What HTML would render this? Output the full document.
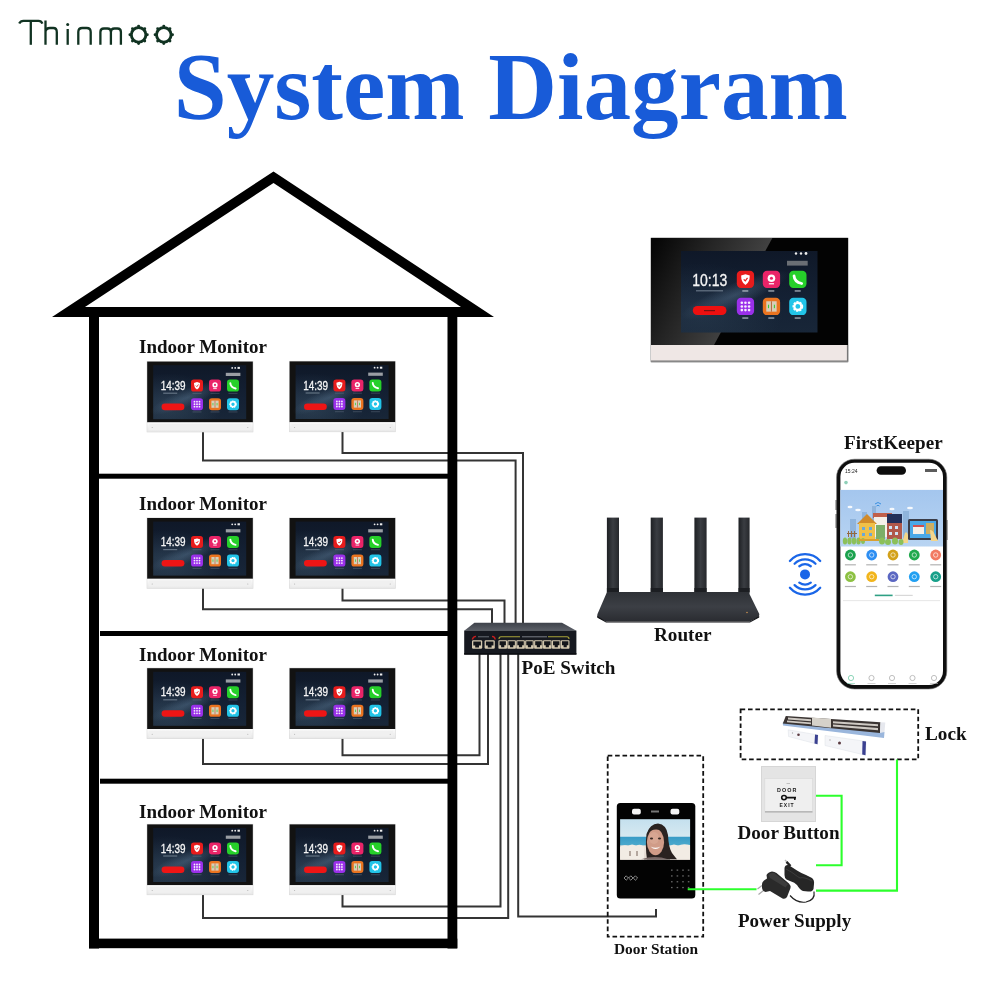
<!DOCTYPE html>
<html><head><meta charset="utf-8">
<style>
html,body{margin:0;padding:0;background:#fff;}
#root{position:relative;width:1000px;height:1000px;overflow:hidden;background:#fff;}
svg{position:absolute;left:0;top:0;will-change:transform;}
.lbl{font-family:"Liberation Serif",serif;font-weight:bold;fill:#111;}
.sans{font-family:"Liberation Sans",sans-serif;}
</style></head><body><div id="root">
<svg width="1000" height="1000" viewBox="0 0 1000 1000">
<defs>
 <linearGradient id="scr" x1="0" y1="0" x2="0" y2="1">
  <stop offset="0" stop-color="#0f1828"/><stop offset="0.6" stop-color="#142134"/><stop offset="1" stop-color="#182638"/>
 </linearGradient>
 <radialGradient id="neb" cx="0.15" cy="0.75" r="0.6">
  <stop offset="0" stop-color="#5a7a90" stop-opacity="0.3"/><stop offset="1" stop-color="#5a7a90" stop-opacity="0"/>
 </radialGradient>
 <radialGradient id="milky" cx="0.5" cy="0.5" r="0.5">
  <stop offset="0" stop-color="#6a8aa8" stop-opacity="0.35"/><stop offset="1" stop-color="#6a8aa8" stop-opacity="0"/>
 </radialGradient>
 <linearGradient id="gloss" gradientUnits="userSpaceOnUse" x1="651" y1="250" x2="750" y2="300">
  <stop offset="0" stop-color="#060606"/><stop offset="0.45" stop-color="#242424"/><stop offset="1" stop-color="#464646"/>
 </linearGradient>
 <linearGradient id="base" x1="0" y1="0" x2="0" y2="1">
  <stop offset="0" stop-color="#fafafa"/><stop offset="1" stop-color="#e8e8e8"/>
 </linearGradient>
 <linearGradient id="rtr" x1="0" y1="0" x2="0" y2="1">
  <stop offset="0" stop-color="#2e3136"/><stop offset="0.5" stop-color="#3c3f45"/><stop offset="1" stop-color="#2a2c31"/>
 </linearGradient>
 <linearGradient id="ant" x1="0" y1="0" x2="1" y2="0">
  <stop offset="0" stop-color="#1e2024"/><stop offset="0.5" stop-color="#3a3d42"/><stop offset="1" stop-color="#26282c"/>
 </linearGradient>
 <linearGradient id="swtop" x1="0" y1="0" x2="0" y2="1">
  <stop offset="0" stop-color="#3e424a"/><stop offset="1" stop-color="#5c6068"/>
 </linearGradient>
 <linearGradient id="sky" x1="0" y1="0" x2="0" y2="1">
  <stop offset="0" stop-color="#a4c6ee"/><stop offset="1" stop-color="#b8d4f2"/>
 </linearGradient>
 <linearGradient id="dsky" x1="0" y1="0" x2="0" y2="1">
  <stop offset="0" stop-color="#c4e0ee"/><stop offset="0.42" stop-color="#d6e8f0"/><stop offset="0.45" stop-color="#3a9cc6"/><stop offset="0.63" stop-color="#4aa8cc"/><stop offset="0.66" stop-color="#eee6de"/><stop offset="1" stop-color="#e0d6cc"/>
 </linearGradient>
</defs>

<g fill="none" stroke="#113322" stroke-width="2.3">
  <path d="M19.2,23.6 Q20.5,20.9 23.5,20.9 H38.5 Q41.3,20.9 42.4,23.6"/>
  <path d="M30.8,21 V44.8"/>
  <path d="M45.5,20.5 V44.8 M45.5,31.5 Q46,28 50,28 H53.3 Q56.8,28 56.8,32 V44.8"/>
  <path d="M67.7,29 V44.8"/>
  <path d="M78.3,44.8 V32 Q78.3,28 82.3,28 H86.7 Q90.7,28 90.7,32 V44.8"/>
  <path d="M100.4,44.8 V32 Q100.4,28.5 103.9,28.5 H107.4 Q110.9,28.5 110.9,32 V44.8 M110.9,32 Q110.9,28.5 114.4,28.5 H117.4 Q120.9,28.5 120.9,32 V44.8"/>
</g>
<circle cx="67.7" cy="24.6" r="1.5" fill="#113322"/>

<g transform="translate(138.6,34.8)"><circle r="7.3" fill="none" stroke="#113322" stroke-width="2.9"/><g fill="#113322">
<circle cx="0.00" cy="-8.70" r="1.45"/>
<circle cx="6.15" cy="-6.15" r="1.45"/>
<circle cx="8.70" cy="-0.00" r="1.45"/>
<circle cx="6.15" cy="6.15" r="1.45"/>
<circle cx="0.00" cy="8.70" r="1.45"/>
<circle cx="-6.15" cy="6.15" r="1.45"/>
<circle cx="-8.70" cy="0.00" r="1.45"/>
<circle cx="-6.15" cy="-6.15" r="1.45"/>
</g></g>
<g transform="translate(163.8,34.8)"><circle r="7.3" fill="none" stroke="#113322" stroke-width="2.9"/><g fill="#113322">
<circle cx="0.00" cy="-8.70" r="1.45"/>
<circle cx="6.15" cy="-6.15" r="1.45"/>
<circle cx="8.70" cy="-0.00" r="1.45"/>
<circle cx="6.15" cy="6.15" r="1.45"/>
<circle cx="0.00" cy="8.70" r="1.45"/>
<circle cx="-6.15" cy="6.15" r="1.45"/>
<circle cx="-8.70" cy="0.00" r="1.45"/>
<circle cx="-6.15" cy="-6.15" r="1.45"/>
</g></g>
<text x="173.7" y="118.7" font-family="Liberation Serif" font-weight="bold" font-size="95.2" fill="#185bd8">System Diagram</text>
<g fill="none" stroke="#343434" stroke-width="2">
 <path d="M203,432 V460.6 H515.6 V623"/>
 <path d="M342.5,432 V453 H523 V623"/>
 <path d="M203,588 V609.3 H492 V623"/>
 <path d="M342.5,588 V600.5 H504.5 V623"/>
 <path d="M203,738 V764 H488 V654"/>
 <path d="M342.5,738 V755.3 H479.5 V654"/>
 <path d="M203,894 V918 H508.2 V654"/>
 <path d="M342.5,894 V906.5 H500.5 V654"/>
 <path d="M518.2,654 V916.6 H656 V909"/>
</g>
<path d="M52,317 L273.5,171.5 L494,317 Z M85,307 L461,307 L273.5,183 Z" fill="#000" fill-rule="evenodd"/>
<rect x="89" y="307" width="10" height="641.5" fill="#000"/>
<rect x="447.5" y="307" width="9.8" height="641.5" fill="#000"/>
<rect x="89" y="938.6" width="368.3" height="9.6" fill="#000"/>
<rect x="98" y="473.7" width="350" height="5" fill="#000"/>
<rect x="100" y="631" width="348" height="5" fill="#000"/>
<rect x="100" y="778.7" width="348" height="5" fill="#000"/>
<g transform="translate(147.2,361.6)"><rect x="-0.5" y="-0.5" width="106.6" height="71.2" fill="#d8d8d8"/><rect x="0" y="0" width="105.6" height="60.8" fill="#121212"/><rect x="0" y="60.8" width="105.6" height="9.4" fill="url(#base)"/><rect x="2" y="62.5" width="101.6" height="6" fill="#f0f0f0"/><circle cx="5" cy="66" r="0.5" fill="#aaa"/><circle cx="100.6" cy="66" r="0.5" fill="#aaa"/><rect x="6" y="3.6" width="93" height="54" fill="url(#scr)"/><rect x="6" y="3.6" width="93" height="54" fill="url(#neb)"/><ellipse cx="40" cy="36" rx="40" ry="9" transform="rotate(-22 40 36)" fill="url(#milky)"/><text x="13.6" y="28.3" class="sans" font-size="12" fill="#f4f4f4" stroke="#f4f4f4" stroke-width="0.3" textLength="24.8" lengthAdjust="spacingAndGlyphs">14:39</text><rect x="16" y="31" width="14" height="1.2" fill="#8090a0" opacity="0.7"/><rect x="14.4" y="42" width="22.8" height="6.6" rx="3.3" fill="#ee1515"/><rect x="78.6" y="11.2" width="14.6" height="3.2" fill="#9a9ea4"/><circle cx="85" cy="6.3" r="0.9" fill="#eee"/><circle cx="88" cy="6.3" r="0.9" fill="#eee"/><rect x="90.3" y="5.3" width="2.4" height="2" fill="#eee"/><rect x="43.8" y="18.0" width="12" height="12" rx="2.88" fill="#e81c1c"/><path d="M46.80,21.36 L49.80,20.40 L52.80,21.36 Q52.80,26.40 49.80,27.84 Q46.80,26.40 46.80,21.36Z" fill="#fff"/><path d="M48.60,24.00 L49.68,25.08 L51.24,22.92" stroke="#e81c1c" stroke-width="0.84" fill="none"/><rect x="45.3" y="31.3" width="9" height="0.9" fill="#8a96a6" opacity="0.35"/><rect x="61.8" y="18.0" width="12" height="12" rx="2.88" fill="#ea2468"/><circle cx="67.80" cy="23.28" r="2.64" fill="#fff"/><circle cx="67.80" cy="23.28" r="1.08" fill="#ea2468"/><rect x="66.00" y="26.64" width="3.60" height="0.84" fill="#fff"/><rect x="63.3" y="31.3" width="9" height="0.9" fill="#8a96a6" opacity="0.35"/><rect x="79.8" y="18.0" width="12" height="12" rx="2.88" fill="#26d02a"/><path d="M83.16,21.60 Q83.40,25.80 88.44,26.88" stroke="#fff" stroke-width="1.92" fill="none" stroke-linecap="round"/><rect x="81.3" y="31.3" width="9" height="0.9" fill="#8a96a6" opacity="0.35"/><rect x="43.8" y="36.6" width="12" height="12" rx="2.88" fill="#9a30ea"/><circle cx="47.28" cy="40.08" r="0.90" fill="#fff" opacity="0.92"/><circle cx="47.28" cy="42.60" r="0.90" fill="#fff" opacity="0.92"/><circle cx="47.28" cy="45.12" r="0.90" fill="#fff" opacity="0.92"/><circle cx="49.80" cy="40.08" r="0.90" fill="#fff" opacity="0.92"/><circle cx="49.80" cy="42.60" r="0.90" fill="#fff" opacity="0.92"/><circle cx="49.80" cy="45.12" r="0.90" fill="#fff" opacity="0.92"/><circle cx="52.32" cy="40.08" r="0.90" fill="#fff" opacity="0.92"/><circle cx="52.32" cy="42.60" r="0.90" fill="#fff" opacity="0.92"/><circle cx="52.32" cy="45.12" r="0.90" fill="#fff" opacity="0.92"/><rect x="45.3" y="49.900000000000006" width="9" height="0.9" fill="#8a96a6" opacity="0.35"/><rect x="61.8" y="36.6" width="12" height="12" rx="2.88" fill="#ea7420"/><rect x="64.20" y="39.00" width="7.20" height="7.20" fill="#d9cdb8"/><rect x="67.44" y="39.00" width="0.72" height="7.20" fill="#b86a40"/><rect x="65.40" y="41.40" width="0.72" height="2.40" fill="#3c3"/><rect x="69.48" y="41.40" width="0.72" height="2.40" fill="#3c3"/><rect x="63.3" y="49.900000000000006" width="9" height="0.9" fill="#8a96a6" opacity="0.35"/><rect x="79.8" y="36.6" width="12" height="12" rx="2.88" fill="#22c4e8"/><circle cx="85.80" cy="42.60" r="2.88" fill="none" stroke="#fff" stroke-width="1.68" stroke-dasharray="1.44 0.60"/><circle cx="85.80" cy="42.60" r="2.40" fill="none" stroke="#fff" stroke-width="1.44"/><rect x="81.3" y="49.900000000000006" width="9" height="0.9" fill="#8a96a6" opacity="0.35"/></g>
<g transform="translate(289.6,361.4)"><rect x="-0.5" y="-0.5" width="106.6" height="71.2" fill="#d8d8d8"/><rect x="0" y="0" width="105.6" height="60.8" fill="#121212"/><rect x="0" y="60.8" width="105.6" height="9.4" fill="url(#base)"/><rect x="2" y="62.5" width="101.6" height="6" fill="#f0f0f0"/><circle cx="5" cy="66" r="0.5" fill="#aaa"/><circle cx="100.6" cy="66" r="0.5" fill="#aaa"/><rect x="6" y="3.6" width="93" height="54" fill="url(#scr)"/><rect x="6" y="3.6" width="93" height="54" fill="url(#neb)"/><ellipse cx="40" cy="36" rx="40" ry="9" transform="rotate(-22 40 36)" fill="url(#milky)"/><text x="13.6" y="28.3" class="sans" font-size="12" fill="#f4f4f4" stroke="#f4f4f4" stroke-width="0.3" textLength="24.8" lengthAdjust="spacingAndGlyphs">14:39</text><rect x="16" y="31" width="14" height="1.2" fill="#8090a0" opacity="0.7"/><rect x="14.4" y="42" width="22.8" height="6.6" rx="3.3" fill="#ee1515"/><rect x="78.6" y="11.2" width="14.6" height="3.2" fill="#9a9ea4"/><circle cx="85" cy="6.3" r="0.9" fill="#eee"/><circle cx="88" cy="6.3" r="0.9" fill="#eee"/><rect x="90.3" y="5.3" width="2.4" height="2" fill="#eee"/><rect x="43.8" y="18.0" width="12" height="12" rx="2.88" fill="#e81c1c"/><path d="M46.80,21.36 L49.80,20.40 L52.80,21.36 Q52.80,26.40 49.80,27.84 Q46.80,26.40 46.80,21.36Z" fill="#fff"/><path d="M48.60,24.00 L49.68,25.08 L51.24,22.92" stroke="#e81c1c" stroke-width="0.84" fill="none"/><rect x="45.3" y="31.3" width="9" height="0.9" fill="#8a96a6" opacity="0.35"/><rect x="61.8" y="18.0" width="12" height="12" rx="2.88" fill="#ea2468"/><circle cx="67.80" cy="23.28" r="2.64" fill="#fff"/><circle cx="67.80" cy="23.28" r="1.08" fill="#ea2468"/><rect x="66.00" y="26.64" width="3.60" height="0.84" fill="#fff"/><rect x="63.3" y="31.3" width="9" height="0.9" fill="#8a96a6" opacity="0.35"/><rect x="79.8" y="18.0" width="12" height="12" rx="2.88" fill="#26d02a"/><path d="M83.16,21.60 Q83.40,25.80 88.44,26.88" stroke="#fff" stroke-width="1.92" fill="none" stroke-linecap="round"/><rect x="81.3" y="31.3" width="9" height="0.9" fill="#8a96a6" opacity="0.35"/><rect x="43.8" y="36.6" width="12" height="12" rx="2.88" fill="#9a30ea"/><circle cx="47.28" cy="40.08" r="0.90" fill="#fff" opacity="0.92"/><circle cx="47.28" cy="42.60" r="0.90" fill="#fff" opacity="0.92"/><circle cx="47.28" cy="45.12" r="0.90" fill="#fff" opacity="0.92"/><circle cx="49.80" cy="40.08" r="0.90" fill="#fff" opacity="0.92"/><circle cx="49.80" cy="42.60" r="0.90" fill="#fff" opacity="0.92"/><circle cx="49.80" cy="45.12" r="0.90" fill="#fff" opacity="0.92"/><circle cx="52.32" cy="40.08" r="0.90" fill="#fff" opacity="0.92"/><circle cx="52.32" cy="42.60" r="0.90" fill="#fff" opacity="0.92"/><circle cx="52.32" cy="45.12" r="0.90" fill="#fff" opacity="0.92"/><rect x="45.3" y="49.900000000000006" width="9" height="0.9" fill="#8a96a6" opacity="0.35"/><rect x="61.8" y="36.6" width="12" height="12" rx="2.88" fill="#ea7420"/><rect x="64.20" y="39.00" width="7.20" height="7.20" fill="#d9cdb8"/><rect x="67.44" y="39.00" width="0.72" height="7.20" fill="#b86a40"/><rect x="65.40" y="41.40" width="0.72" height="2.40" fill="#3c3"/><rect x="69.48" y="41.40" width="0.72" height="2.40" fill="#3c3"/><rect x="63.3" y="49.900000000000006" width="9" height="0.9" fill="#8a96a6" opacity="0.35"/><rect x="79.8" y="36.6" width="12" height="12" rx="2.88" fill="#22c4e8"/><circle cx="85.80" cy="42.60" r="2.88" fill="none" stroke="#fff" stroke-width="1.68" stroke-dasharray="1.44 0.60"/><circle cx="85.80" cy="42.60" r="2.40" fill="none" stroke="#fff" stroke-width="1.44"/><rect x="81.3" y="49.900000000000006" width="9" height="0.9" fill="#8a96a6" opacity="0.35"/></g>
<g transform="translate(147.2,518.0)"><rect x="-0.5" y="-0.5" width="106.6" height="71.2" fill="#d8d8d8"/><rect x="0" y="0" width="105.6" height="60.8" fill="#121212"/><rect x="0" y="60.8" width="105.6" height="9.4" fill="url(#base)"/><rect x="2" y="62.5" width="101.6" height="6" fill="#f0f0f0"/><circle cx="5" cy="66" r="0.5" fill="#aaa"/><circle cx="100.6" cy="66" r="0.5" fill="#aaa"/><rect x="6" y="3.6" width="93" height="54" fill="url(#scr)"/><rect x="6" y="3.6" width="93" height="54" fill="url(#neb)"/><ellipse cx="40" cy="36" rx="40" ry="9" transform="rotate(-22 40 36)" fill="url(#milky)"/><text x="13.6" y="28.3" class="sans" font-size="12" fill="#f4f4f4" stroke="#f4f4f4" stroke-width="0.3" textLength="24.8" lengthAdjust="spacingAndGlyphs">14:39</text><rect x="16" y="31" width="14" height="1.2" fill="#8090a0" opacity="0.7"/><rect x="14.4" y="42" width="22.8" height="6.6" rx="3.3" fill="#ee1515"/><rect x="78.6" y="11.2" width="14.6" height="3.2" fill="#9a9ea4"/><circle cx="85" cy="6.3" r="0.9" fill="#eee"/><circle cx="88" cy="6.3" r="0.9" fill="#eee"/><rect x="90.3" y="5.3" width="2.4" height="2" fill="#eee"/><rect x="43.8" y="18.0" width="12" height="12" rx="2.88" fill="#e81c1c"/><path d="M46.80,21.36 L49.80,20.40 L52.80,21.36 Q52.80,26.40 49.80,27.84 Q46.80,26.40 46.80,21.36Z" fill="#fff"/><path d="M48.60,24.00 L49.68,25.08 L51.24,22.92" stroke="#e81c1c" stroke-width="0.84" fill="none"/><rect x="45.3" y="31.3" width="9" height="0.9" fill="#8a96a6" opacity="0.35"/><rect x="61.8" y="18.0" width="12" height="12" rx="2.88" fill="#ea2468"/><circle cx="67.80" cy="23.28" r="2.64" fill="#fff"/><circle cx="67.80" cy="23.28" r="1.08" fill="#ea2468"/><rect x="66.00" y="26.64" width="3.60" height="0.84" fill="#fff"/><rect x="63.3" y="31.3" width="9" height="0.9" fill="#8a96a6" opacity="0.35"/><rect x="79.8" y="18.0" width="12" height="12" rx="2.88" fill="#26d02a"/><path d="M83.16,21.60 Q83.40,25.80 88.44,26.88" stroke="#fff" stroke-width="1.92" fill="none" stroke-linecap="round"/><rect x="81.3" y="31.3" width="9" height="0.9" fill="#8a96a6" opacity="0.35"/><rect x="43.8" y="36.6" width="12" height="12" rx="2.88" fill="#9a30ea"/><circle cx="47.28" cy="40.08" r="0.90" fill="#fff" opacity="0.92"/><circle cx="47.28" cy="42.60" r="0.90" fill="#fff" opacity="0.92"/><circle cx="47.28" cy="45.12" r="0.90" fill="#fff" opacity="0.92"/><circle cx="49.80" cy="40.08" r="0.90" fill="#fff" opacity="0.92"/><circle cx="49.80" cy="42.60" r="0.90" fill="#fff" opacity="0.92"/><circle cx="49.80" cy="45.12" r="0.90" fill="#fff" opacity="0.92"/><circle cx="52.32" cy="40.08" r="0.90" fill="#fff" opacity="0.92"/><circle cx="52.32" cy="42.60" r="0.90" fill="#fff" opacity="0.92"/><circle cx="52.32" cy="45.12" r="0.90" fill="#fff" opacity="0.92"/><rect x="45.3" y="49.900000000000006" width="9" height="0.9" fill="#8a96a6" opacity="0.35"/><rect x="61.8" y="36.6" width="12" height="12" rx="2.88" fill="#ea7420"/><rect x="64.20" y="39.00" width="7.20" height="7.20" fill="#d9cdb8"/><rect x="67.44" y="39.00" width="0.72" height="7.20" fill="#b86a40"/><rect x="65.40" y="41.40" width="0.72" height="2.40" fill="#3c3"/><rect x="69.48" y="41.40" width="0.72" height="2.40" fill="#3c3"/><rect x="63.3" y="49.900000000000006" width="9" height="0.9" fill="#8a96a6" opacity="0.35"/><rect x="79.8" y="36.6" width="12" height="12" rx="2.88" fill="#22c4e8"/><circle cx="85.80" cy="42.60" r="2.88" fill="none" stroke="#fff" stroke-width="1.68" stroke-dasharray="1.44 0.60"/><circle cx="85.80" cy="42.60" r="2.40" fill="none" stroke="#fff" stroke-width="1.44"/><rect x="81.3" y="49.900000000000006" width="9" height="0.9" fill="#8a96a6" opacity="0.35"/></g>
<g transform="translate(289.6,518.0)"><rect x="-0.5" y="-0.5" width="106.6" height="71.2" fill="#d8d8d8"/><rect x="0" y="0" width="105.6" height="60.8" fill="#121212"/><rect x="0" y="60.8" width="105.6" height="9.4" fill="url(#base)"/><rect x="2" y="62.5" width="101.6" height="6" fill="#f0f0f0"/><circle cx="5" cy="66" r="0.5" fill="#aaa"/><circle cx="100.6" cy="66" r="0.5" fill="#aaa"/><rect x="6" y="3.6" width="93" height="54" fill="url(#scr)"/><rect x="6" y="3.6" width="93" height="54" fill="url(#neb)"/><ellipse cx="40" cy="36" rx="40" ry="9" transform="rotate(-22 40 36)" fill="url(#milky)"/><text x="13.6" y="28.3" class="sans" font-size="12" fill="#f4f4f4" stroke="#f4f4f4" stroke-width="0.3" textLength="24.8" lengthAdjust="spacingAndGlyphs">14:39</text><rect x="16" y="31" width="14" height="1.2" fill="#8090a0" opacity="0.7"/><rect x="14.4" y="42" width="22.8" height="6.6" rx="3.3" fill="#ee1515"/><rect x="78.6" y="11.2" width="14.6" height="3.2" fill="#9a9ea4"/><circle cx="85" cy="6.3" r="0.9" fill="#eee"/><circle cx="88" cy="6.3" r="0.9" fill="#eee"/><rect x="90.3" y="5.3" width="2.4" height="2" fill="#eee"/><rect x="43.8" y="18.0" width="12" height="12" rx="2.88" fill="#e81c1c"/><path d="M46.80,21.36 L49.80,20.40 L52.80,21.36 Q52.80,26.40 49.80,27.84 Q46.80,26.40 46.80,21.36Z" fill="#fff"/><path d="M48.60,24.00 L49.68,25.08 L51.24,22.92" stroke="#e81c1c" stroke-width="0.84" fill="none"/><rect x="45.3" y="31.3" width="9" height="0.9" fill="#8a96a6" opacity="0.35"/><rect x="61.8" y="18.0" width="12" height="12" rx="2.88" fill="#ea2468"/><circle cx="67.80" cy="23.28" r="2.64" fill="#fff"/><circle cx="67.80" cy="23.28" r="1.08" fill="#ea2468"/><rect x="66.00" y="26.64" width="3.60" height="0.84" fill="#fff"/><rect x="63.3" y="31.3" width="9" height="0.9" fill="#8a96a6" opacity="0.35"/><rect x="79.8" y="18.0" width="12" height="12" rx="2.88" fill="#26d02a"/><path d="M83.16,21.60 Q83.40,25.80 88.44,26.88" stroke="#fff" stroke-width="1.92" fill="none" stroke-linecap="round"/><rect x="81.3" y="31.3" width="9" height="0.9" fill="#8a96a6" opacity="0.35"/><rect x="43.8" y="36.6" width="12" height="12" rx="2.88" fill="#9a30ea"/><circle cx="47.28" cy="40.08" r="0.90" fill="#fff" opacity="0.92"/><circle cx="47.28" cy="42.60" r="0.90" fill="#fff" opacity="0.92"/><circle cx="47.28" cy="45.12" r="0.90" fill="#fff" opacity="0.92"/><circle cx="49.80" cy="40.08" r="0.90" fill="#fff" opacity="0.92"/><circle cx="49.80" cy="42.60" r="0.90" fill="#fff" opacity="0.92"/><circle cx="49.80" cy="45.12" r="0.90" fill="#fff" opacity="0.92"/><circle cx="52.32" cy="40.08" r="0.90" fill="#fff" opacity="0.92"/><circle cx="52.32" cy="42.60" r="0.90" fill="#fff" opacity="0.92"/><circle cx="52.32" cy="45.12" r="0.90" fill="#fff" opacity="0.92"/><rect x="45.3" y="49.900000000000006" width="9" height="0.9" fill="#8a96a6" opacity="0.35"/><rect x="61.8" y="36.6" width="12" height="12" rx="2.88" fill="#ea7420"/><rect x="64.20" y="39.00" width="7.20" height="7.20" fill="#d9cdb8"/><rect x="67.44" y="39.00" width="0.72" height="7.20" fill="#b86a40"/><rect x="65.40" y="41.40" width="0.72" height="2.40" fill="#3c3"/><rect x="69.48" y="41.40" width="0.72" height="2.40" fill="#3c3"/><rect x="63.3" y="49.900000000000006" width="9" height="0.9" fill="#8a96a6" opacity="0.35"/><rect x="79.8" y="36.6" width="12" height="12" rx="2.88" fill="#22c4e8"/><circle cx="85.80" cy="42.60" r="2.88" fill="none" stroke="#fff" stroke-width="1.68" stroke-dasharray="1.44 0.60"/><circle cx="85.80" cy="42.60" r="2.40" fill="none" stroke="#fff" stroke-width="1.44"/><rect x="81.3" y="49.900000000000006" width="9" height="0.9" fill="#8a96a6" opacity="0.35"/></g>
<g transform="translate(147.2,668.2)"><rect x="-0.5" y="-0.5" width="106.6" height="71.2" fill="#d8d8d8"/><rect x="0" y="0" width="105.6" height="60.8" fill="#121212"/><rect x="0" y="60.8" width="105.6" height="9.4" fill="url(#base)"/><rect x="2" y="62.5" width="101.6" height="6" fill="#f0f0f0"/><circle cx="5" cy="66" r="0.5" fill="#aaa"/><circle cx="100.6" cy="66" r="0.5" fill="#aaa"/><rect x="6" y="3.6" width="93" height="54" fill="url(#scr)"/><rect x="6" y="3.6" width="93" height="54" fill="url(#neb)"/><ellipse cx="40" cy="36" rx="40" ry="9" transform="rotate(-22 40 36)" fill="url(#milky)"/><text x="13.6" y="28.3" class="sans" font-size="12" fill="#f4f4f4" stroke="#f4f4f4" stroke-width="0.3" textLength="24.8" lengthAdjust="spacingAndGlyphs">14:39</text><rect x="16" y="31" width="14" height="1.2" fill="#8090a0" opacity="0.7"/><rect x="14.4" y="42" width="22.8" height="6.6" rx="3.3" fill="#ee1515"/><rect x="78.6" y="11.2" width="14.6" height="3.2" fill="#9a9ea4"/><circle cx="85" cy="6.3" r="0.9" fill="#eee"/><circle cx="88" cy="6.3" r="0.9" fill="#eee"/><rect x="90.3" y="5.3" width="2.4" height="2" fill="#eee"/><rect x="43.8" y="18.0" width="12" height="12" rx="2.88" fill="#e81c1c"/><path d="M46.80,21.36 L49.80,20.40 L52.80,21.36 Q52.80,26.40 49.80,27.84 Q46.80,26.40 46.80,21.36Z" fill="#fff"/><path d="M48.60,24.00 L49.68,25.08 L51.24,22.92" stroke="#e81c1c" stroke-width="0.84" fill="none"/><rect x="45.3" y="31.3" width="9" height="0.9" fill="#8a96a6" opacity="0.35"/><rect x="61.8" y="18.0" width="12" height="12" rx="2.88" fill="#ea2468"/><circle cx="67.80" cy="23.28" r="2.64" fill="#fff"/><circle cx="67.80" cy="23.28" r="1.08" fill="#ea2468"/><rect x="66.00" y="26.64" width="3.60" height="0.84" fill="#fff"/><rect x="63.3" y="31.3" width="9" height="0.9" fill="#8a96a6" opacity="0.35"/><rect x="79.8" y="18.0" width="12" height="12" rx="2.88" fill="#26d02a"/><path d="M83.16,21.60 Q83.40,25.80 88.44,26.88" stroke="#fff" stroke-width="1.92" fill="none" stroke-linecap="round"/><rect x="81.3" y="31.3" width="9" height="0.9" fill="#8a96a6" opacity="0.35"/><rect x="43.8" y="36.6" width="12" height="12" rx="2.88" fill="#9a30ea"/><circle cx="47.28" cy="40.08" r="0.90" fill="#fff" opacity="0.92"/><circle cx="47.28" cy="42.60" r="0.90" fill="#fff" opacity="0.92"/><circle cx="47.28" cy="45.12" r="0.90" fill="#fff" opacity="0.92"/><circle cx="49.80" cy="40.08" r="0.90" fill="#fff" opacity="0.92"/><circle cx="49.80" cy="42.60" r="0.90" fill="#fff" opacity="0.92"/><circle cx="49.80" cy="45.12" r="0.90" fill="#fff" opacity="0.92"/><circle cx="52.32" cy="40.08" r="0.90" fill="#fff" opacity="0.92"/><circle cx="52.32" cy="42.60" r="0.90" fill="#fff" opacity="0.92"/><circle cx="52.32" cy="45.12" r="0.90" fill="#fff" opacity="0.92"/><rect x="45.3" y="49.900000000000006" width="9" height="0.9" fill="#8a96a6" opacity="0.35"/><rect x="61.8" y="36.6" width="12" height="12" rx="2.88" fill="#ea7420"/><rect x="64.20" y="39.00" width="7.20" height="7.20" fill="#d9cdb8"/><rect x="67.44" y="39.00" width="0.72" height="7.20" fill="#b86a40"/><rect x="65.40" y="41.40" width="0.72" height="2.40" fill="#3c3"/><rect x="69.48" y="41.40" width="0.72" height="2.40" fill="#3c3"/><rect x="63.3" y="49.900000000000006" width="9" height="0.9" fill="#8a96a6" opacity="0.35"/><rect x="79.8" y="36.6" width="12" height="12" rx="2.88" fill="#22c4e8"/><circle cx="85.80" cy="42.60" r="2.88" fill="none" stroke="#fff" stroke-width="1.68" stroke-dasharray="1.44 0.60"/><circle cx="85.80" cy="42.60" r="2.40" fill="none" stroke="#fff" stroke-width="1.44"/><rect x="81.3" y="49.900000000000006" width="9" height="0.9" fill="#8a96a6" opacity="0.35"/></g>
<g transform="translate(289.6,668.2)"><rect x="-0.5" y="-0.5" width="106.6" height="71.2" fill="#d8d8d8"/><rect x="0" y="0" width="105.6" height="60.8" fill="#121212"/><rect x="0" y="60.8" width="105.6" height="9.4" fill="url(#base)"/><rect x="2" y="62.5" width="101.6" height="6" fill="#f0f0f0"/><circle cx="5" cy="66" r="0.5" fill="#aaa"/><circle cx="100.6" cy="66" r="0.5" fill="#aaa"/><rect x="6" y="3.6" width="93" height="54" fill="url(#scr)"/><rect x="6" y="3.6" width="93" height="54" fill="url(#neb)"/><ellipse cx="40" cy="36" rx="40" ry="9" transform="rotate(-22 40 36)" fill="url(#milky)"/><text x="13.6" y="28.3" class="sans" font-size="12" fill="#f4f4f4" stroke="#f4f4f4" stroke-width="0.3" textLength="24.8" lengthAdjust="spacingAndGlyphs">14:39</text><rect x="16" y="31" width="14" height="1.2" fill="#8090a0" opacity="0.7"/><rect x="14.4" y="42" width="22.8" height="6.6" rx="3.3" fill="#ee1515"/><rect x="78.6" y="11.2" width="14.6" height="3.2" fill="#9a9ea4"/><circle cx="85" cy="6.3" r="0.9" fill="#eee"/><circle cx="88" cy="6.3" r="0.9" fill="#eee"/><rect x="90.3" y="5.3" width="2.4" height="2" fill="#eee"/><rect x="43.8" y="18.0" width="12" height="12" rx="2.88" fill="#e81c1c"/><path d="M46.80,21.36 L49.80,20.40 L52.80,21.36 Q52.80,26.40 49.80,27.84 Q46.80,26.40 46.80,21.36Z" fill="#fff"/><path d="M48.60,24.00 L49.68,25.08 L51.24,22.92" stroke="#e81c1c" stroke-width="0.84" fill="none"/><rect x="45.3" y="31.3" width="9" height="0.9" fill="#8a96a6" opacity="0.35"/><rect x="61.8" y="18.0" width="12" height="12" rx="2.88" fill="#ea2468"/><circle cx="67.80" cy="23.28" r="2.64" fill="#fff"/><circle cx="67.80" cy="23.28" r="1.08" fill="#ea2468"/><rect x="66.00" y="26.64" width="3.60" height="0.84" fill="#fff"/><rect x="63.3" y="31.3" width="9" height="0.9" fill="#8a96a6" opacity="0.35"/><rect x="79.8" y="18.0" width="12" height="12" rx="2.88" fill="#26d02a"/><path d="M83.16,21.60 Q83.40,25.80 88.44,26.88" stroke="#fff" stroke-width="1.92" fill="none" stroke-linecap="round"/><rect x="81.3" y="31.3" width="9" height="0.9" fill="#8a96a6" opacity="0.35"/><rect x="43.8" y="36.6" width="12" height="12" rx="2.88" fill="#9a30ea"/><circle cx="47.28" cy="40.08" r="0.90" fill="#fff" opacity="0.92"/><circle cx="47.28" cy="42.60" r="0.90" fill="#fff" opacity="0.92"/><circle cx="47.28" cy="45.12" r="0.90" fill="#fff" opacity="0.92"/><circle cx="49.80" cy="40.08" r="0.90" fill="#fff" opacity="0.92"/><circle cx="49.80" cy="42.60" r="0.90" fill="#fff" opacity="0.92"/><circle cx="49.80" cy="45.12" r="0.90" fill="#fff" opacity="0.92"/><circle cx="52.32" cy="40.08" r="0.90" fill="#fff" opacity="0.92"/><circle cx="52.32" cy="42.60" r="0.90" fill="#fff" opacity="0.92"/><circle cx="52.32" cy="45.12" r="0.90" fill="#fff" opacity="0.92"/><rect x="45.3" y="49.900000000000006" width="9" height="0.9" fill="#8a96a6" opacity="0.35"/><rect x="61.8" y="36.6" width="12" height="12" rx="2.88" fill="#ea7420"/><rect x="64.20" y="39.00" width="7.20" height="7.20" fill="#d9cdb8"/><rect x="67.44" y="39.00" width="0.72" height="7.20" fill="#b86a40"/><rect x="65.40" y="41.40" width="0.72" height="2.40" fill="#3c3"/><rect x="69.48" y="41.40" width="0.72" height="2.40" fill="#3c3"/><rect x="63.3" y="49.900000000000006" width="9" height="0.9" fill="#8a96a6" opacity="0.35"/><rect x="79.8" y="36.6" width="12" height="12" rx="2.88" fill="#22c4e8"/><circle cx="85.80" cy="42.60" r="2.88" fill="none" stroke="#fff" stroke-width="1.68" stroke-dasharray="1.44 0.60"/><circle cx="85.80" cy="42.60" r="2.40" fill="none" stroke="#fff" stroke-width="1.44"/><rect x="81.3" y="49.900000000000006" width="9" height="0.9" fill="#8a96a6" opacity="0.35"/></g>
<g transform="translate(147.2,824.4)"><rect x="-0.5" y="-0.5" width="106.6" height="71.2" fill="#d8d8d8"/><rect x="0" y="0" width="105.6" height="60.8" fill="#121212"/><rect x="0" y="60.8" width="105.6" height="9.4" fill="url(#base)"/><rect x="2" y="62.5" width="101.6" height="6" fill="#f0f0f0"/><circle cx="5" cy="66" r="0.5" fill="#aaa"/><circle cx="100.6" cy="66" r="0.5" fill="#aaa"/><rect x="6" y="3.6" width="93" height="54" fill="url(#scr)"/><rect x="6" y="3.6" width="93" height="54" fill="url(#neb)"/><ellipse cx="40" cy="36" rx="40" ry="9" transform="rotate(-22 40 36)" fill="url(#milky)"/><text x="13.6" y="28.3" class="sans" font-size="12" fill="#f4f4f4" stroke="#f4f4f4" stroke-width="0.3" textLength="24.8" lengthAdjust="spacingAndGlyphs">14:39</text><rect x="16" y="31" width="14" height="1.2" fill="#8090a0" opacity="0.7"/><rect x="14.4" y="42" width="22.8" height="6.6" rx="3.3" fill="#ee1515"/><rect x="78.6" y="11.2" width="14.6" height="3.2" fill="#9a9ea4"/><circle cx="85" cy="6.3" r="0.9" fill="#eee"/><circle cx="88" cy="6.3" r="0.9" fill="#eee"/><rect x="90.3" y="5.3" width="2.4" height="2" fill="#eee"/><rect x="43.8" y="18.0" width="12" height="12" rx="2.88" fill="#e81c1c"/><path d="M46.80,21.36 L49.80,20.40 L52.80,21.36 Q52.80,26.40 49.80,27.84 Q46.80,26.40 46.80,21.36Z" fill="#fff"/><path d="M48.60,24.00 L49.68,25.08 L51.24,22.92" stroke="#e81c1c" stroke-width="0.84" fill="none"/><rect x="45.3" y="31.3" width="9" height="0.9" fill="#8a96a6" opacity="0.35"/><rect x="61.8" y="18.0" width="12" height="12" rx="2.88" fill="#ea2468"/><circle cx="67.80" cy="23.28" r="2.64" fill="#fff"/><circle cx="67.80" cy="23.28" r="1.08" fill="#ea2468"/><rect x="66.00" y="26.64" width="3.60" height="0.84" fill="#fff"/><rect x="63.3" y="31.3" width="9" height="0.9" fill="#8a96a6" opacity="0.35"/><rect x="79.8" y="18.0" width="12" height="12" rx="2.88" fill="#26d02a"/><path d="M83.16,21.60 Q83.40,25.80 88.44,26.88" stroke="#fff" stroke-width="1.92" fill="none" stroke-linecap="round"/><rect x="81.3" y="31.3" width="9" height="0.9" fill="#8a96a6" opacity="0.35"/><rect x="43.8" y="36.6" width="12" height="12" rx="2.88" fill="#9a30ea"/><circle cx="47.28" cy="40.08" r="0.90" fill="#fff" opacity="0.92"/><circle cx="47.28" cy="42.60" r="0.90" fill="#fff" opacity="0.92"/><circle cx="47.28" cy="45.12" r="0.90" fill="#fff" opacity="0.92"/><circle cx="49.80" cy="40.08" r="0.90" fill="#fff" opacity="0.92"/><circle cx="49.80" cy="42.60" r="0.90" fill="#fff" opacity="0.92"/><circle cx="49.80" cy="45.12" r="0.90" fill="#fff" opacity="0.92"/><circle cx="52.32" cy="40.08" r="0.90" fill="#fff" opacity="0.92"/><circle cx="52.32" cy="42.60" r="0.90" fill="#fff" opacity="0.92"/><circle cx="52.32" cy="45.12" r="0.90" fill="#fff" opacity="0.92"/><rect x="45.3" y="49.900000000000006" width="9" height="0.9" fill="#8a96a6" opacity="0.35"/><rect x="61.8" y="36.6" width="12" height="12" rx="2.88" fill="#ea7420"/><rect x="64.20" y="39.00" width="7.20" height="7.20" fill="#d9cdb8"/><rect x="67.44" y="39.00" width="0.72" height="7.20" fill="#b86a40"/><rect x="65.40" y="41.40" width="0.72" height="2.40" fill="#3c3"/><rect x="69.48" y="41.40" width="0.72" height="2.40" fill="#3c3"/><rect x="63.3" y="49.900000000000006" width="9" height="0.9" fill="#8a96a6" opacity="0.35"/><rect x="79.8" y="36.6" width="12" height="12" rx="2.88" fill="#22c4e8"/><circle cx="85.80" cy="42.60" r="2.88" fill="none" stroke="#fff" stroke-width="1.68" stroke-dasharray="1.44 0.60"/><circle cx="85.80" cy="42.60" r="2.40" fill="none" stroke="#fff" stroke-width="1.44"/><rect x="81.3" y="49.900000000000006" width="9" height="0.9" fill="#8a96a6" opacity="0.35"/></g>
<g transform="translate(289.6,824.4)"><rect x="-0.5" y="-0.5" width="106.6" height="71.2" fill="#d8d8d8"/><rect x="0" y="0" width="105.6" height="60.8" fill="#121212"/><rect x="0" y="60.8" width="105.6" height="9.4" fill="url(#base)"/><rect x="2" y="62.5" width="101.6" height="6" fill="#f0f0f0"/><circle cx="5" cy="66" r="0.5" fill="#aaa"/><circle cx="100.6" cy="66" r="0.5" fill="#aaa"/><rect x="6" y="3.6" width="93" height="54" fill="url(#scr)"/><rect x="6" y="3.6" width="93" height="54" fill="url(#neb)"/><ellipse cx="40" cy="36" rx="40" ry="9" transform="rotate(-22 40 36)" fill="url(#milky)"/><text x="13.6" y="28.3" class="sans" font-size="12" fill="#f4f4f4" stroke="#f4f4f4" stroke-width="0.3" textLength="24.8" lengthAdjust="spacingAndGlyphs">14:39</text><rect x="16" y="31" width="14" height="1.2" fill="#8090a0" opacity="0.7"/><rect x="14.4" y="42" width="22.8" height="6.6" rx="3.3" fill="#ee1515"/><rect x="78.6" y="11.2" width="14.6" height="3.2" fill="#9a9ea4"/><circle cx="85" cy="6.3" r="0.9" fill="#eee"/><circle cx="88" cy="6.3" r="0.9" fill="#eee"/><rect x="90.3" y="5.3" width="2.4" height="2" fill="#eee"/><rect x="43.8" y="18.0" width="12" height="12" rx="2.88" fill="#e81c1c"/><path d="M46.80,21.36 L49.80,20.40 L52.80,21.36 Q52.80,26.40 49.80,27.84 Q46.80,26.40 46.80,21.36Z" fill="#fff"/><path d="M48.60,24.00 L49.68,25.08 L51.24,22.92" stroke="#e81c1c" stroke-width="0.84" fill="none"/><rect x="45.3" y="31.3" width="9" height="0.9" fill="#8a96a6" opacity="0.35"/><rect x="61.8" y="18.0" width="12" height="12" rx="2.88" fill="#ea2468"/><circle cx="67.80" cy="23.28" r="2.64" fill="#fff"/><circle cx="67.80" cy="23.28" r="1.08" fill="#ea2468"/><rect x="66.00" y="26.64" width="3.60" height="0.84" fill="#fff"/><rect x="63.3" y="31.3" width="9" height="0.9" fill="#8a96a6" opacity="0.35"/><rect x="79.8" y="18.0" width="12" height="12" rx="2.88" fill="#26d02a"/><path d="M83.16,21.60 Q83.40,25.80 88.44,26.88" stroke="#fff" stroke-width="1.92" fill="none" stroke-linecap="round"/><rect x="81.3" y="31.3" width="9" height="0.9" fill="#8a96a6" opacity="0.35"/><rect x="43.8" y="36.6" width="12" height="12" rx="2.88" fill="#9a30ea"/><circle cx="47.28" cy="40.08" r="0.90" fill="#fff" opacity="0.92"/><circle cx="47.28" cy="42.60" r="0.90" fill="#fff" opacity="0.92"/><circle cx="47.28" cy="45.12" r="0.90" fill="#fff" opacity="0.92"/><circle cx="49.80" cy="40.08" r="0.90" fill="#fff" opacity="0.92"/><circle cx="49.80" cy="42.60" r="0.90" fill="#fff" opacity="0.92"/><circle cx="49.80" cy="45.12" r="0.90" fill="#fff" opacity="0.92"/><circle cx="52.32" cy="40.08" r="0.90" fill="#fff" opacity="0.92"/><circle cx="52.32" cy="42.60" r="0.90" fill="#fff" opacity="0.92"/><circle cx="52.32" cy="45.12" r="0.90" fill="#fff" opacity="0.92"/><rect x="45.3" y="49.900000000000006" width="9" height="0.9" fill="#8a96a6" opacity="0.35"/><rect x="61.8" y="36.6" width="12" height="12" rx="2.88" fill="#ea7420"/><rect x="64.20" y="39.00" width="7.20" height="7.20" fill="#d9cdb8"/><rect x="67.44" y="39.00" width="0.72" height="7.20" fill="#b86a40"/><rect x="65.40" y="41.40" width="0.72" height="2.40" fill="#3c3"/><rect x="69.48" y="41.40" width="0.72" height="2.40" fill="#3c3"/><rect x="63.3" y="49.900000000000006" width="9" height="0.9" fill="#8a96a6" opacity="0.35"/><rect x="79.8" y="36.6" width="12" height="12" rx="2.88" fill="#22c4e8"/><circle cx="85.80" cy="42.60" r="2.88" fill="none" stroke="#fff" stroke-width="1.68" stroke-dasharray="1.44 0.60"/><circle cx="85.80" cy="42.60" r="2.40" fill="none" stroke="#fff" stroke-width="1.44"/><rect x="81.3" y="49.900000000000006" width="9" height="0.9" fill="#8a96a6" opacity="0.35"/></g>
<g><rect x="650.5" y="237.5" width="198" height="125" rx="1" fill="#9a9a9a"/><rect x="651" y="238" width="197" height="107" fill="#030303"/><path d="M651,238 H772.4 L714,345 H651 Z" fill="url(#gloss)"/><rect x="651" y="345" width="196" height="16" fill="#efe7e5"/><path d="M651,361 H847.5 V345" fill="none" stroke="#777" stroke-width="1.2"/><rect x="681" y="251" width="136.5" height="81.5" fill="url(#scr)"/><rect x="681" y="251" width="136.5" height="81.5" fill="url(#neb)" opacity="0.6"/><ellipse cx="735" cy="295" rx="58" ry="12" transform="rotate(-22 735 295)" fill="url(#milky)"/><text x="692.3" y="285.5" class="sans" font-size="15.6" fill="#f4f4f4" stroke="#f4f4f4" stroke-width="0.3" textLength="35" lengthAdjust="spacingAndGlyphs">10:13</text><rect x="696" y="290.2" width="27" height="1.2" fill="#9aa8b8" opacity="0.6"/><rect x="692.8" y="305.9" width="33.7" height="9.2" rx="4.6" fill="#ee1010"/><rect x="704" y="310" width="11" height="1.2" fill="#7a1010"/><rect x="787" y="260.8" width="20.7" height="4.8" fill="#6a6e74"/><circle cx="796" cy="253.5" r="1.2" fill="#eee"/><circle cx="801" cy="253.5" r="1.2" fill="#eee"/><circle cx="806" cy="253.5" r="1.4" fill="#eee"/><rect x="736.8" y="270.7" width="17.3" height="17.3" rx="4.15" fill="#e81c1c"/><path d="M741.12,275.54 L745.45,274.16 L749.77,275.54 Q749.77,282.81 745.45,284.89 Q741.12,282.81 741.12,275.54Z" fill="#fff"/><path d="M743.72,279.35 L745.28,280.91 L747.53,277.79" stroke="#e81c1c" stroke-width="1.21" fill="none"/><rect x="742.3" y="290.2" width="6" height="1.5" fill="#c8d0d8" opacity="0.7"/><rect x="762.8" y="270.7" width="17.3" height="17.3" rx="4.15" fill="#ea2468"/><circle cx="771.45" cy="278.31" r="3.81" fill="#fff"/><circle cx="771.45" cy="278.31" r="1.56" fill="#ea2468"/><rect x="768.85" y="283.16" width="5.19" height="1.21" fill="#fff"/><rect x="768.3" y="290.2" width="6" height="1.5" fill="#c8d0d8" opacity="0.7"/><rect x="789.2" y="270.7" width="17.3" height="17.3" rx="4.15" fill="#26d02a"/><path d="M794.04,275.89 Q794.39,281.94 801.66,283.50" stroke="#fff" stroke-width="2.77" fill="none" stroke-linecap="round"/><rect x="794.7" y="290.2" width="6" height="1.5" fill="#c8d0d8" opacity="0.7"/><rect x="736.8" y="297.8" width="17.3" height="17.3" rx="4.15" fill="#9a30ea"/><circle cx="741.82" cy="302.82" r="1.30" fill="#fff" opacity="0.92"/><circle cx="741.82" cy="306.45" r="1.30" fill="#fff" opacity="0.92"/><circle cx="741.82" cy="310.08" r="1.30" fill="#fff" opacity="0.92"/><circle cx="745.45" cy="302.82" r="1.30" fill="#fff" opacity="0.92"/><circle cx="745.45" cy="306.45" r="1.30" fill="#fff" opacity="0.92"/><circle cx="745.45" cy="310.08" r="1.30" fill="#fff" opacity="0.92"/><circle cx="749.08" cy="302.82" r="1.30" fill="#fff" opacity="0.92"/><circle cx="749.08" cy="306.45" r="1.30" fill="#fff" opacity="0.92"/><circle cx="749.08" cy="310.08" r="1.30" fill="#fff" opacity="0.92"/><rect x="742.3" y="317.3" width="6" height="1.5" fill="#c8d0d8" opacity="0.7"/><rect x="762.8" y="297.8" width="17.3" height="17.3" rx="4.15" fill="#ea7420"/><rect x="766.26" y="301.26" width="10.38" height="10.38" fill="#d9cdb8"/><rect x="770.93" y="301.26" width="1.04" height="10.38" fill="#b86a40"/><rect x="767.99" y="304.72" width="1.04" height="3.46" fill="#3c3"/><rect x="773.87" y="304.72" width="1.04" height="3.46" fill="#3c3"/><rect x="768.3" y="317.3" width="6" height="1.5" fill="#c8d0d8" opacity="0.7"/><rect x="789.2" y="297.8" width="17.3" height="17.3" rx="4.15" fill="#22c4e8"/><circle cx="797.85" cy="306.45" r="4.15" fill="none" stroke="#fff" stroke-width="2.42" stroke-dasharray="2.08 0.87"/><circle cx="797.85" cy="306.45" r="3.46" fill="none" stroke="#fff" stroke-width="2.08"/><rect x="794.7" y="317.3" width="6" height="1.5" fill="#c8d0d8" opacity="0.7"/></g>
<g><path d="M474.4,622.8 H562 L576.4,630.8 H464.2 Z" fill="url(#swtop)"/><rect x="464.2" y="630.6" width="112.2" height="24" fill="#161920"/><rect x="464.2" y="653" width="112.2" height="1.6" fill="#0c0e12"/><rect x="472" y="640.2" width="10.2" height="8.6" rx="1.2" fill="#d6cab0"/><path d="M473.3,641.4 H480.9 V645.6 H479 V647.4 H475.2 V645.6 H473.3 Z" fill="#14161a"/><rect x="484.6" y="640.2" width="10.2" height="8.6" rx="1.2" fill="#d6cab0"/><path d="M485.90000000000003,641.4 H493.5 V645.6 H491.6 V647.4 H487.8 V645.6 H485.90000000000003 Z" fill="#14161a"/><path d="M472.3,639.5 Q473,636.6 476,636.4 M492,636.4 Q495,636.6 495.2,639.5" stroke="#c41e1e" stroke-width="1.4" fill="none"/><path d="M478,636.8 H489" stroke="#8a9098" stroke-width="0.7"/><rect x="498.40" y="640.2" width="8.6" height="8.6" rx="0.8" fill="#d6cab0"/><path d="M499.50,641.3 H505.90 V645.3 H504.30 V647.2 H501.10 V645.3 H499.50 Z" fill="#14161a"/><rect x="507.32" y="640.2" width="8.6" height="8.6" rx="0.8" fill="#d6cab0"/><path d="M508.43,641.3 H514.83 V645.3 H513.23 V647.2 H510.02 V645.3 H508.43 Z" fill="#14161a"/><rect x="516.25" y="640.2" width="8.6" height="8.6" rx="0.8" fill="#d6cab0"/><path d="M517.35,641.3 H523.75 V645.3 H522.15 V647.2 H518.95 V645.3 H517.35 Z" fill="#14161a"/><rect x="525.17" y="640.2" width="8.6" height="8.6" rx="0.8" fill="#d6cab0"/><path d="M526.27,641.3 H532.67 V645.3 H531.07 V647.2 H527.88 V645.3 H526.27 Z" fill="#14161a"/><rect x="534.10" y="640.2" width="8.6" height="8.6" rx="0.8" fill="#d6cab0"/><path d="M535.20,641.3 H541.60 V645.3 H540.00 V647.2 H536.80 V645.3 H535.20 Z" fill="#14161a"/><rect x="543.02" y="640.2" width="8.6" height="8.6" rx="0.8" fill="#d6cab0"/><path d="M544.12,641.3 H550.52 V645.3 H548.92 V647.2 H545.73 V645.3 H544.12 Z" fill="#14161a"/><rect x="551.95" y="640.2" width="8.6" height="8.6" rx="0.8" fill="#d6cab0"/><path d="M553.05,641.3 H559.45 V645.3 H557.85 V647.2 H554.65 V645.3 H553.05 Z" fill="#14161a"/><rect x="560.88" y="640.2" width="8.6" height="8.6" rx="0.8" fill="#d6cab0"/><path d="M561.98,641.3 H568.38 V645.3 H566.77 V647.2 H563.58 V645.3 H561.98 Z" fill="#14161a"/><path d="M499,639 Q499,636.8 501,636.8 H520 M548,636.8 H567 Q569,636.8 569,639" stroke="#a8a438" stroke-width="1.1" fill="none"/><rect x="522" y="636.3" width="25" height="1" fill="#7a7e86"/></g>
<g><rect x="606.9" y="517.6" width="12.1" height="76" fill="url(#ant)"/><rect x="606.9" y="588" width="12.1" height="4" fill="#1c1e22"/><rect x="650.7" y="517.6" width="12.2" height="76" fill="url(#ant)"/><rect x="650.7" y="588" width="12.2" height="4" fill="#1c1e22"/><rect x="694.4" y="517.6" width="12.2" height="76" fill="url(#ant)"/><rect x="694.4" y="588" width="12.2" height="4" fill="#1c1e22"/><rect x="738.5" y="517.6" width="11.1" height="76" fill="url(#ant)"/><rect x="738.5" y="588" width="11.1" height="4" fill="#1c1e22"/><path d="M607,592 H748.5 L759.3,614 Q759.5,617.5 756,618.5 L750,621.5 H606 L599,618.5 Q596.5,617.5 597.5,614 Z" fill="url(#rtr)"/><path d="M597.2,616 L606,621.5 H750 L759.2,616 V617.5 L750,622.4 H606 L597.2,617.5 Z" fill="#121316"/><circle cx="747" cy="612.5" r="0.8" fill="#c89050"/></g>
<g fill="none" stroke="#1a66e8" stroke-width="2.3" stroke-linecap="round">
 <path d="M789.9,561 A20.2,20.2 0 0 1 820.2,561"/>
 <path d="M794.6,563.7 A14.9,14.9 0 0 1 815.5,563.7"/>
 <path d="M799.3,566.2 A10,10 0 0 1 810.8,566.2"/>
 <path d="M789.9,587.8 A20.2,20.2 0 0 0 820.2,587.8"/>
 <path d="M794.6,585.1 A14.9,14.9 0 0 0 815.5,585.1"/>
 <path d="M799.3,582.6 A10,10 0 0 0 810.8,582.6"/>
</g>
<circle cx="805" cy="574.4" r="5" fill="#1a66e8"/>
<g><rect x="836.6" y="459.2" width="110.2" height="229.8" rx="18" fill="#0e0e0e" stroke="#777" stroke-width="0.6"/><rect x="840.4" y="462.8" width="102.6" height="222.2" rx="14" fill="#fff"/><rect x="876.6" y="466.2" width="29.4" height="8.6" rx="4.3" fill="#0c0c0c"/><text x="845" y="472.6" class="sans" font-size="5" fill="#222">15:24</text><rect x="925" y="469" width="12" height="3" fill="#333" opacity="0.8"/><circle cx="846" cy="482.6" r="1.8" fill="#8fd0b8"/><rect x="840.3" y="489.9" width="102.7" height="56.6" fill="url(#sky)"/><g fill="#8fb4dc"><rect x="850" y="519" width="6" height="20"/><rect x="862" y="512" width="5" height="24"/><rect x="872" y="506" width="4" height="30"/><rect x="903" y="511" width="6" height="28"/></g><g fill="#fff" opacity="0.9"><ellipse cx="850" cy="507" rx="2.5" ry="1.2"/><ellipse cx="858" cy="510" rx="2.8" ry="1.3"/><ellipse cx="892" cy="509" rx="2.6" ry="1.2"/><ellipse cx="910" cy="508" rx="3" ry="1.3"/></g><path d="M875,504 q3,-3 6,0 M876.5,506 q1.5,-1.5 3,0" stroke="#3a90e0" stroke-width="1" fill="none"/><path d="M873,513 L878,513 L892,513 L892,518 L873,518Z" fill="#c0604a"/><rect x="874" y="517" width="16" height="20" fill="#f4f0e8"/><path d="M857,524 L867,514 L877,524 Z" fill="#d08a2a"/><rect x="859" y="523" width="16" height="17" fill="#f0c048"/><rect x="862" y="527" width="3" height="3" fill="#6aa8d8"/><rect x="869" y="527" width="3" height="3" fill="#6aa8d8"/><rect x="862" y="533" width="3" height="3" fill="#6aa8d8"/><rect x="869" y="533" width="3" height="3" fill="#6aa8d8"/><rect x="876" y="525" width="9" height="14" fill="#7cae68"/><rect x="887" y="514" width="15" height="9" fill="#22305a"/><rect x="887" y="523" width="15" height="16" fill="#b0584a"/><rect x="889" y="526" width="3" height="3" fill="#cfe4f4"/><rect x="895" y="526" width="3" height="3" fill="#cfe4f4"/><rect x="889" y="532" width="3" height="3" fill="#cfe4f4"/><rect x="895" y="532" width="3" height="3" fill="#cfe4f4"/><rect x="908" y="519" width="30" height="21" rx="1.5" fill="#3a3c48"/><rect x="910" y="521" width="26" height="17" fill="#4aa8e8"/><rect x="913" y="526" width="11" height="8" fill="#f6f0e8"/><rect x="913" y="525" width="11" height="2" fill="#d05050"/><rect x="926" y="523" width="8" height="11" fill="#f0b040" opacity="0.8"/><path d="M905,533 q2,-2 3,2 v8 h-6 z" fill="#f4d58a"/><path d="M930,530 q3,0 5,5 l3,6 h-7 z" fill="#f4d58a"/><rect x="847" y="533" width="10" height="1" fill="#8a6a40"/><g fill="#9a6a40"><rect x="848" y="531" width="1" height="6"/><rect x="851" y="531" width="1" height="6"/><rect x="854" y="531" width="1" height="6"/></g><g fill="#8cc05a"><ellipse cx="845" cy="541" rx="2.2" ry="3.5"/><ellipse cx="849.5" cy="541" rx="2.2" ry="3.5"/><ellipse cx="854" cy="541" rx="2.2" ry="3.5"/><ellipse cx="858.5" cy="541" rx="2.2" ry="3.5"/><ellipse cx="863" cy="541" rx="2" ry="3"/><ellipse cx="882" cy="541" rx="3" ry="3.5"/><ellipse cx="888" cy="542" rx="3" ry="3"/><ellipse cx="895" cy="541" rx="3" ry="3.5"/><ellipse cx="901" cy="542" rx="2.5" ry="3"/></g><rect x="859" y="539" width="20" height="2" fill="#d8a030"/><circle cx="850.4" cy="555" r="5.4" fill="#1ba24e"/><circle cx="850.4" cy="555" r="2.2" fill="none" stroke="#fff" stroke-width="0.8" opacity="0.8"/><rect x="844.9" y="564.2" width="11" height="1.2" fill="#444" opacity="0.4"/><circle cx="850.4" cy="576.7" r="5.4" fill="#8dc143"/><circle cx="850.4" cy="576.7" r="2.2" fill="none" stroke="#fff" stroke-width="0.8" opacity="0.8"/><rect x="844.9" y="585.9" width="11" height="1.2" fill="#444" opacity="0.4"/><circle cx="871.7" cy="555" r="5.4" fill="#2d8ef2"/><circle cx="871.7" cy="555" r="2.2" fill="none" stroke="#fff" stroke-width="0.8" opacity="0.8"/><rect x="866.2" y="564.2" width="11" height="1.2" fill="#444" opacity="0.4"/><circle cx="871.7" cy="576.7" r="5.4" fill="#f2b51c"/><circle cx="871.7" cy="576.7" r="2.2" fill="none" stroke="#fff" stroke-width="0.8" opacity="0.8"/><rect x="866.2" y="585.9" width="11" height="1.2" fill="#444" opacity="0.4"/><circle cx="893.0" cy="555" r="5.4" fill="#d3a11a"/><circle cx="893.0" cy="555" r="2.2" fill="none" stroke="#fff" stroke-width="0.8" opacity="0.8"/><rect x="887.5" y="564.2" width="11" height="1.2" fill="#444" opacity="0.4"/><circle cx="893.0" cy="576.7" r="5.4" fill="#5b67c2"/><circle cx="893.0" cy="576.7" r="2.2" fill="none" stroke="#fff" stroke-width="0.8" opacity="0.8"/><rect x="887.5" y="585.9" width="11" height="1.2" fill="#444" opacity="0.4"/><circle cx="914.3" cy="555" r="5.4" fill="#22a94e"/><circle cx="914.3" cy="555" r="2.2" fill="none" stroke="#fff" stroke-width="0.8" opacity="0.8"/><rect x="908.8" y="564.2" width="11" height="1.2" fill="#444" opacity="0.4"/><circle cx="914.3" cy="576.7" r="5.4" fill="#22a0f2"/><circle cx="914.3" cy="576.7" r="2.2" fill="none" stroke="#fff" stroke-width="0.8" opacity="0.8"/><rect x="908.8" y="585.9" width="11" height="1.2" fill="#444" opacity="0.4"/><circle cx="935.7" cy="555" r="5.4" fill="#f27a62"/><circle cx="935.7" cy="555" r="2.2" fill="none" stroke="#fff" stroke-width="0.8" opacity="0.8"/><rect x="930.2" y="564.2" width="11" height="1.2" fill="#444" opacity="0.4"/><circle cx="935.7" cy="576.7" r="5.4" fill="#17a08a"/><circle cx="935.7" cy="576.7" r="2.2" fill="none" stroke="#fff" stroke-width="0.8" opacity="0.8"/><rect x="930.2" y="585.9" width="11" height="1.2" fill="#444" opacity="0.4"/><rect x="874.8" y="594.6" width="17.8" height="1.6" fill="#2fa084"/><rect x="894.9" y="594.8" width="17.8" height="1.2" fill="#d8d8d8"/><rect x="843" y="600.3" width="97" height="0.8" fill="#e0e0e0"/><circle cx="851" cy="678" r="2.6" fill="none" stroke="#7fd0b0" stroke-width="0.9"/><rect x="847" y="683" width="8" height="1" fill="#7fd0b0" opacity="0.6"/><circle cx="871.5" cy="678" r="2.6" fill="none" stroke="#b8b8b8" stroke-width="0.9"/><rect x="867.5" y="683" width="8" height="1" fill="#b8b8b8" opacity="0.6"/><circle cx="892" cy="678" r="2.6" fill="none" stroke="#b8b8b8" stroke-width="0.9"/><rect x="888" y="683" width="8" height="1" fill="#b8b8b8" opacity="0.6"/><circle cx="912.5" cy="678" r="2.6" fill="none" stroke="#b8b8b8" stroke-width="0.9"/><rect x="908.5" y="683" width="8" height="1" fill="#b8b8b8" opacity="0.6"/><circle cx="934" cy="678" r="2.6" fill="none" stroke="#b8b8b8" stroke-width="0.9"/><rect x="930" y="683" width="8" height="1" fill="#b8b8b8" opacity="0.6"/><rect x="835.6" y="500" width="1" height="10" fill="#444"/><rect x="835.6" y="514" width="1" height="14" fill="#444"/><rect x="946.4" y="520" width="1" height="20" fill="#444"/></g>
<g fill="none" stroke="#111" stroke-width="1.8" stroke-dasharray="4.6 2.8">
 <rect x="607.7" y="755.6" width="95.5" height="181"/>
 <rect x="740.6" y="709.3" width="177.6" height="50.1"/>
</g>
<g><rect x="616.8" y="802.9" width="78.5" height="95.5" rx="3.5" fill="#030303"/><rect x="632" y="808.8" width="8.8" height="5.8" rx="2" fill="#f4f4f4"/><rect x="670.5" y="808.8" width="8.8" height="5.8" rx="2" fill="#f4f4f4"/><rect x="651" y="810.5" width="8" height="2" fill="#777"/><rect x="620.1" y="819.2" width="70" height="40.5" fill="url(#dsky)"/><path d="M620.1,847 q4,-3 8,-1 q4,-3 8,0 q4,-3 8,1 V859.7 H620.1Z" fill="#f2ece4"/><rect x="629" y="851" width="2" height="5" fill="#8a7a70" opacity="0.6"/><rect x="636" y="851" width="2" height="5" fill="#8a7a70" opacity="0.6"/><path d="M670,846 q4,-3 8,0 q4,-3 12,-1 V859.7 H670Z" fill="#f2ece4"/><path d="M647,859.2 Q645,846 646.5,834 Q650,823.5 658,823.5 Q666.5,824.5 668,835 Q668.5,847 672,853 Q675,857 677,859.2 Z" fill="#2a2220"/><ellipse cx="655.5" cy="842" rx="8.6" ry="13.2" fill="#d09c88"/><ellipse cx="654" cy="838" rx="5" ry="6" fill="#dcae9a" opacity="0.6"/><path d="M647,834 Q650,825 658,825 Q665.5,826 667,835 Q662,829.5 656,829.5 Q650.5,829.5 647,834Z" fill="#2a2220"/><path d="M650.5,846.5 Q655.5,851.5 660.5,846.5 Q655.5,849 650.5,846.5Z" fill="#fff"/><ellipse cx="651.5" cy="838.5" rx="1.6" ry="1" fill="#3a2a24"/><ellipse cx="659.5" cy="838.5" rx="1.6" ry="1" fill="#3a2a24"/><path d="M641,859.2 Q655,855 668,859.2Z" fill="#7a6a68"/><rect x="671.0" y="869.5" width="1.6" height="1.3" fill="#666"/><rect x="671.0" y="875.3" width="1.6" height="1.3" fill="#666"/><rect x="671.0" y="881.1" width="1.6" height="1.3" fill="#666"/><rect x="671.0" y="886.9" width="1.6" height="1.3" fill="#666"/><rect x="676.6" y="869.5" width="1.6" height="1.3" fill="#666"/><rect x="676.6" y="875.3" width="1.6" height="1.3" fill="#666"/><rect x="676.6" y="881.1" width="1.6" height="1.3" fill="#666"/><rect x="676.6" y="886.9" width="1.6" height="1.3" fill="#666"/><rect x="682.2" y="869.5" width="1.6" height="1.3" fill="#666"/><rect x="682.2" y="875.3" width="1.6" height="1.3" fill="#666"/><rect x="682.2" y="881.1" width="1.6" height="1.3" fill="#666"/><rect x="682.2" y="886.9" width="1.6" height="1.3" fill="#666"/><rect x="687.8" y="869.5" width="1.6" height="1.3" fill="#666"/><rect x="687.8" y="875.3" width="1.6" height="1.3" fill="#666"/><rect x="687.8" y="881.1" width="1.6" height="1.3" fill="#666"/><rect x="687.8" y="886.9" width="1.6" height="1.3" fill="#666"/><path d="M624,878 l2.2,-2.2 l2.2,2.2 l-2.2,2.2z M628.6,878 l2.2,-2.2 l2.2,2.2 l-2.2,2.2z M633.2,878 l2.2,-2.2 l2.2,2.2 l-2.2,2.2z" fill="none" stroke="#aaa" stroke-width="0.8"/></g>
<g><path d="M782.8,722.5 L884.5,732 L884,737.9 L783,725.5 Z" fill="#9ab6dc"/><path d="M785.8,715.9 L880.5,722.2 L880,733 L782.8,723.4 Z" fill="#3a3432"/><path d="M788,717.6 L811,719.2 L811,721.2 L788,719.6Z M787,720.6 L811,722.6 L811,724.2 L787,722.3Z" fill="#cfcac4"/><path d="M833,721.2 L878,724.2 L878,726.2 L833,723.2Z M833,724.6 L878,728 L878,730.2 L833,726.6Z" fill="#cfcac4"/><path d="M812,717.6 L831,719 L831,727.8 L812,725.5 Z" fill="#d6d2ca"/><path d="M880.5,722.2 L885.3,722.5 L884.5,732 L880,733 Z" fill="#e6e8ee"/><path d="M788.2,729.8 L818,735 L817.5,744.2 L788.5,736.5 Z" fill="#f4f5f8" stroke="#dde0e6" stroke-width="0.5"/><path d="M815,734.5 L818,735 L817.5,744.2 L814.5,743.6 Z" fill="#3a4090"/><circle cx="792.5" cy="733" r="0.7" fill="#aaa"/><circle cx="798.5" cy="734.8" r="1.3" fill="#5a3a40"/><path d="M825,735.5 L866,741.4 L865.5,755.2 L825,745.5 Z" fill="#f4f5f8" stroke="#dde0e6" stroke-width="0.5"/><path d="M862.5,741 L866,741.4 L865.5,755.2 L862.2,754.4 Z" fill="#3a4090"/><circle cx="830" cy="740" r="0.7" fill="#aaa"/><circle cx="839.5" cy="743" r="1.5" fill="#5a3a40"/></g>
<g>
<rect x="761" y="766" width="55" height="56" fill="#e4e4e4"/>
<rect x="761.5" y="766.5" width="54" height="55" fill="none" stroke="#d6d6d6" stroke-width="1"/>
<rect x="764.8" y="778.5" width="47.9" height="34" fill="#efefef" stroke="#d8d8d8" stroke-width="0.6"/>
<rect x="765" y="811" width="47.5" height="1.6" fill="#b8b8b8"/>
<rect x="786.5" y="783" width="3.5" height="0.9" fill="#bbb"/>
<text x="777" y="791.6" class="sans" font-size="5.4" font-weight="bold" fill="#1a1a1a" letter-spacing="1.1">DOOR</text>
<ellipse cx="784" cy="797.6" rx="2.3" ry="2.1" fill="none" stroke="#111" stroke-width="1.6"/>
<path d="M786.3,797.6 H796 M794.8,797.6 V800" fill="none" stroke="#111" stroke-width="1.6"/>
<text x="779.5" y="807.2" class="sans" font-size="5" font-weight="bold" fill="#1a1a1a" letter-spacing="1">EXIT</text>
</g>
<g>
<path d="M762,885.5 L757.5,889 M763.5,890.5 L758.5,894.5" stroke="#a8a8a8" stroke-width="1.2"/>
<path d="M766.5,875 Q768,872 772,871.5 Q774.5,871.5 776.5,873 L789,883.5 Q791,885.5 790.5,888 L787,897 Q785.5,899.5 782.5,898.5 L770,891 L765.5,892 Q762.5,891 762,888 L762,884 Q762,882 764,880.5 L767,878.5 Z" fill="#2a2a2a"/>
<path d="M768.5,875 Q770.5,872.5 774,872.8 L788,884.2 L785.5,887.5 L770,878 Z" fill="#3c3c3c"/>
<path d="M787.5,862.5 L785,860" stroke="#bbb" stroke-width="1.4"/>
<path d="M786.5,861.8 L790.5,866" stroke="#222" stroke-width="2.4"/>
<path d="M784.5,868 Q785,864.5 788.5,865 L797,870.5 Q800,872.5 806,875 L812,878 Q814.5,880 814,884 L813.5,889 Q812.5,892 808,891.5 L803,891 Q800,890 797,885 Q795,882.5 790,881 L786.5,879.5 Q784.5,878 784.5,875 Z" fill="#262626"/>
<path d="M786,869 Q792,872 797.5,876.5 L800,878 Q804,876.5 812,881" fill="none" stroke="#404040" stroke-width="0.8"/>
<path d="M790,895.5 Q797,903.5 806,902 Q815.5,900 814,891.5" fill="none" stroke="#222" stroke-width="1.2"/>
</g>
<g fill="none" stroke="#2cff2c" stroke-width="2.1">
 <path d="M687.7,889.2 H756.5"/>
 <path d="M816,795.7 H841.6 V865.3 H816"/>
 <path d="M816,890.6 H897 V759.5"/>
</g>
<text class="lbl" x="139" y="352.5" font-size="19">Indoor Monitor</text>
<text class="lbl" x="139" y="509.8" font-size="19">Indoor Monitor</text>
<text class="lbl" x="139" y="661.3" font-size="19">Indoor Monitor</text>
<text class="lbl" x="139" y="817.8" font-size="19">Indoor Monitor</text>
<text class="lbl" x="521.5" y="673.8" font-size="19.1">PoE Switch</text>
<text class="lbl" x="654" y="641.2" font-size="19.2">Router</text>
<text class="lbl" x="844" y="448.8" font-size="19.1">FirstKeeper</text>
<text class="lbl" x="925" y="740" font-size="19.2">Lock</text>
<text class="lbl" x="737.5" y="838.8" font-size="19.1">Door Button</text>
<text class="lbl" x="738" y="927.4" font-size="19">Power Supply</text>
<text class="lbl" x="614" y="953.8" font-size="15.4">Door Station</text>
</svg></div></body></html>
